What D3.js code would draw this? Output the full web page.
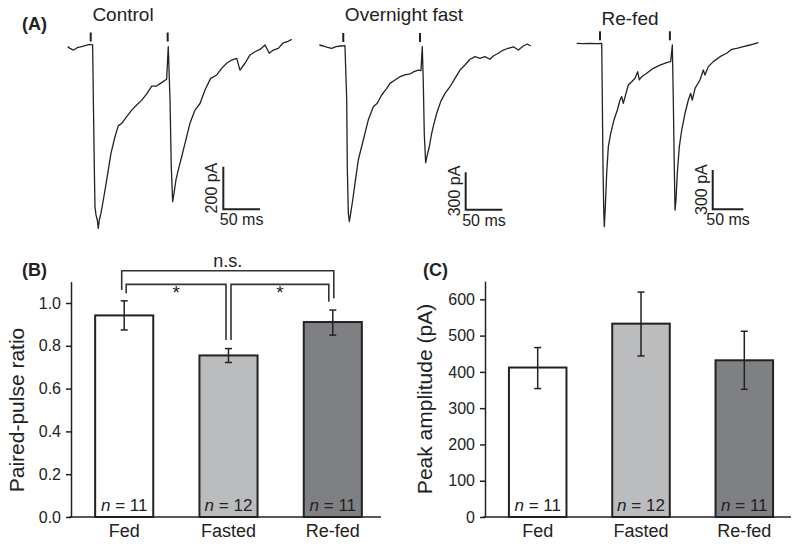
<!DOCTYPE html>
<html>
<head>
<meta charset="utf-8">
<script src="https://cdn.jsdelivr.net/npm/d3@7/dist/d3.min.js"></script>
<style>
  body { margin: 0; background: #fff; }
  svg { font-family: "Liberation Sans", Arial, sans-serif; }
  .axis path, .axis line { stroke: #222; stroke-width: 1.5px; }
  .axis text { font-size: 16px; fill: #222; }
  .axis.xax text { font-size: 18px; }
</style>
</head>
<body>
<div id="chart"></div>
<script>
// ---- panel A: example traces, [time ms, current pA] ----
const traceNames = ["Control", "Overnight fast", "Re-fed"];
const traceControl = [[0,-10],[3,-18],[8,-26],[13,-15],[19,-10],[25,-4],[30,1],[34,-2],[35,-260],[36.3,-574],[37.2,-761],[38.6,-800],[40.4,-824],[41.7,-863],[43.1,-824],[45.4,-792],[48.6,-730],[53.2,-636],[59,-511],[64.5,-433],[69,-382],[73.7,-370],[80.5,-339],[87.3,-308],[94.1,-284],[101,-261],[107.8,-232],[114.6,-195],[121.4,-195],[128.2,-179],[135,-163],[137.2,-10],[139.6,-261],[141.3,-574],[143.2,-738],[145,-699],[147.7,-636],[150.9,-589],[155.5,-527],[160,-464],[166.8,-370],[173.7,-308],[180.5,-277],[187.3,-214],[195,-159],[203.3,-143],[210,-112],[216.9,-88],[223.7,-73],[230.6,-65],[235,-120],[241.9,-88],[248.7,-49],[255.5,-34],[262.3,-23],[269.2,-2],[275,-41],[280.5,-26],[287.3,-18],[294.1,8],[299.6,13],[305.6,24]];
const traceFast = [[0,0],[5.5,-8],[11,-19],[17,-27],[22.8,-13],[29,-8],[35,-5],[37.4,-439],[38.2,-971],[39.6,-1343],[41,-1410],[42.8,-1343],[45.6,-1237],[48.7,-1104],[53.2,-918],[60,-758],[66.8,-599],[73.7,-492],[79.1,-465],[85.1,-399],[92,-346],[96.5,-306],[103.3,-279],[110.1,-253],[116.9,-239],[123.7,-231],[129.2,-213],[135.1,-200],[138.7,-205],[140.5,-13],[141.9,-306],[143.2,-705],[145.1,-939],[147.3,-878],[150.1,-812],[153.3,-705],[156.5,-625],[160.2,-545],[165.6,-452],[171.5,-386],[178.3,-333],[185.1,-266],[191.9,-200],[198.8,-160],[205.6,-114],[212.4,-93],[219.2,-106],[226,-93],[232.9,-114],[237.4,-88],[244.2,-66],[251,-40],[257.8,-26],[264.7,-14],[271.5,-40],[278.3,-8],[283.8,8],[288.4,-8]];
const traceRefed = [[0,0],[10.8,-3],[21.7,0],[32.6,-3],[40.8,0],[41.8,-433],[42.9,-942],[44,-1247],[45,-1400],[46.7,-1247],[48.9,-992],[51.6,-789],[55.5,-687],[60.8,-585],[66.3,-509],[70.6,-433],[73.4,-407],[76,-458],[80.4,-382],[84.2,-318],[89.7,-293],[95.1,-267],[99.5,-217],[102.1,-280],[106,-255],[114.2,-229],[125,-191],[135.9,-166],[146.8,-148],[153.3,-140],[156,-13],[157.6,-433],[159.2,-942],[160.4,-1273],[162,-1196],[164.1,-992],[167.4,-789],[171.3,-662],[176.7,-534],[182.1,-433],[186,-382],[188.6,-433],[193,-344],[201.1,-280],[206.5,-204],[209.3,-242],[214.7,-178],[222.8,-140],[233.8,-102],[244.7,-76],[252.9,-46],[261,-38],[271.8,-26],[282.7,-13],[296.3,5]];
const stimTimes = [[31.4, 136.4], [32.7, 137.4], [38, 152]];
const barPA = [200, 300, 300];
const barMs = 50;
const barAt = [[212.3, -574], [199.7, -1015], [221.9, -967]];

// ---- panels B and C ----
const groups = ["Fed", "Fasted", "Re-fed"];
const nCells = [11, 12, 11];
const ppr = [0.942, 0.755, 0.911];
const pprLo = [0.874, 0.722, 0.85];
const pprHi = [1.01, 0.787, 0.967];
const amp = [412, 533, 432];
const ampLo = [354, 444, 352];
const ampHi = [467, 620, 512];
const pprTicks = [0, 0.2, 0.4, 0.6, 0.8, 1.0];
const ampTicks = [0, 100, 200, 300, 400, 500, 600];
const fills = ["#ffffff", "#bbbcbe", "#7f8083"];
// comparisons: from group, to group, label, bracket level, leg ends
const comps = [
  {a: 0, b: 2, label: "n.s.", top: 1.151, endA: 1.061, endB: 1.022, dA: -2.5, dB: 1},
  {a: 0, b: 1, label: "*", top: 1.087, endA: 1.045, endB: 0.827, dA: 2, dB: -2.5},
  {a: 1, b: 2, label: "*", top: 1.087, endA: 0.827, endB: 1.006, dA: 2.5, dB: -4}
];

const W = 800, H = 546;
const svg = d3.select("#chart").append("svg").attr("width", W).attr("height", H);

// panel A
svg.append("text").attr("x", 22).attr("y", 30).attr("font-size", 18).attr("font-weight", "bold").attr("fill", "#222").text("(A)");

const layouts = [
  {x0: 67.7, pxMs: 0.733, y0: 44.5, pxPA: 0.213, tx: 123, ty: 21},
  {x0: 319.3, pxMs: 0.733, y0: 45, pxPA: 0.1253, tx: 404, ty: 21},
  {x0: 576.7, pxMs: 0.613, y0: 43.3, pxPA: 0.131, tx: 630, ty: 25}
];
const traces = [traceControl, traceFast, traceRefed];

traces.forEach((tr, i) => {
  const L = layouts[i];
  const x = d3.scaleLinear().domain([0, 100]).range([L.x0, L.x0 + 100 * L.pxMs]);
  const y = d3.scaleLinear().domain([0, -1000]).range([L.y0, L.y0 + 1000 * L.pxPA]);
  const g = svg.append("g");

  g.append("text").attr("x", L.tx).attr("y", L.ty).attr("text-anchor", "middle")
    .attr("font-size", 19).attr("fill", "#222").text(traceNames[i]);

  g.append("path").datum(tr)
    .attr("d", d3.line().x(d => x(d[0])).y(d => y(d[1])))
    .attr("fill", "none").attr("stroke", "#222").attr("stroke-width", 1.3)
    .attr("stroke-linejoin", "round");

  g.selectAll(".stim").data(stimTimes[i]).enter().append("line")
    .attr("x1", d => x(d)).attr("x2", d => x(d))
    .attr("y1", y(0) - 12).attr("y2", y(0) - 3)
    .attr("stroke", "#222").attr("stroke-width", 2);

  // scale bar
  const [bt, bi] = barAt[i];
  const bx = x(bt), byTop = y(bi), byBot = y(bi - barPA[i]), bxEnd = x(bt + barMs);
  g.append("path")
    .attr("d", `M${bx},${byTop}V${byBot}H${bxEnd}`)
    .attr("fill", "none").attr("stroke", "#222").attr("stroke-width", 2);
  g.append("text")
    .attr("transform", `translate(${bx - 6},${(byTop + byBot) / 2}) rotate(-90)`)
    .attr("text-anchor", "middle").attr("font-size", 16).attr("fill", "#222")
    .text(barPA[i] + " pA");
  g.append("text").attr("x", (bx + bxEnd) / 2).attr("y", byBot + 16)
    .attr("text-anchor", "middle").attr("font-size", 16).attr("fill", "#222")
    .text(barMs + " ms");
});

// bar panels
function barPanel(opts) {
  const g = svg.append("g");
  const x = d3.scaleBand().domain(groups).range(opts.xr).paddingInner(0.443).paddingOuter(0.222);
  const y = d3.scaleLinear().domain(opts.yd).range([517, opts.ytop]);

  g.append("text").attr("x", opts.lx).attr("y", 276).attr("font-size", 18)
    .attr("font-weight", "bold").attr("fill", "#222").text(opts.letter);

  g.selectAll("rect").data(groups).enter().append("rect")
    .attr("x", d => x(d)).attr("width", x.bandwidth())
    .attr("y", (d, i) => y(opts.vals[i]))
    .attr("height", (d, i) => y(0) - y(opts.vals[i]))
    .attr("fill", (d, i) => fills[i]).attr("stroke", "#222").attr("stroke-width", 2);

  const eb = g.selectAll(".eb").data(groups).enter().append("g")
    .attr("stroke", "#222").attr("stroke-width", 1.5);
  eb.append("line")
    .attr("x1", d => x(d) + x.bandwidth() / 2).attr("x2", d => x(d) + x.bandwidth() / 2)
    .attr("y1", (d, i) => y(opts.lo[i])).attr("y2", (d, i) => y(opts.hi[i]));
  [opts.lo, opts.hi].forEach(arr => {
    eb.append("line")
      .attr("x1", d => x(d) + x.bandwidth() / 2 - 3.5).attr("x2", d => x(d) + x.bandwidth() / 2 + 3.5)
      .attr("y1", (d, i) => y(arr[i])).attr("y2", (d, i) => y(arr[i]));
  });

  g.selectAll(".n").data(groups).enter().append("text")
    .attr("x", d => x(d) + x.bandwidth() / 2).attr("y", 511)
    .attr("text-anchor", "middle").attr("font-size", 17).attr("fill", "#222")
    .html((d, i) => `<tspan font-style="italic">n</tspan> = ${nCells[i]}`);

  g.append("g").attr("class", "axis").attr("transform", `translate(${opts.ax},0)`)
    .call(d3.axisLeft(y).tickValues(opts.ticks).tickFormat(opts.fmt).tickSize(5).tickSizeOuter(0).tickPadding(5));
  const xa = g.append("g").attr("class", "axis xax").attr("transform", "translate(0,517)")
    .call(d3.axisBottom(x).tickSize(0).tickPadding(7));
  xa.select(".domain").attr("d", `M${opts.ax - 2},0H${opts.xend}`);

  g.append("text")
    .attr("transform", `translate(${opts.ylx},${opts.yly}) rotate(-90)`)
    .attr("text-anchor", "middle").attr("font-size", 21).attr("fill", "#222")
    .text(opts.ylabel);
  return {g, x, y};
}

const B = barPanel({
  letter: "(B)", lx: 22, xr: [72, 385], ax: 71, xend: 381, yd: [0, 1.1], ytop: 281.6,
  vals: ppr, lo: pprLo, hi: pprHi, ticks: pprTicks, fmt: d3.format(".1f"),
  ylabel: "Paired-pulse ratio", ylx: 24, yly: 410
});

const C = barPanel({
  letter: "(C)", lx: 423, xr: [486, 796], ax: 485, xend: 791, yd: [0, 650], ytop: 281.2,
  vals: amp, lo: ampLo, hi: ampHi, ticks: ampTicks, fmt: d3.format("d"),
  ylabel: "Peak amplitude (pA)", ylx: 432, yly: 399
});

// significance brackets on B
const cx = i => B.x(groups[i]) + B.x.bandwidth() / 2;
comps.forEach(c => {
  const xa = cx(c.a) + c.dA, xb = cx(c.b) + c.dB;
  B.g.append("path")
    .attr("d", `M${xa},${B.y(c.endA)}V${B.y(c.top)}H${xb}V${B.y(c.endB)}`)
    .attr("fill", "none").attr("stroke", "#333").attr("stroke-width", 1.6);
  B.g.append("text").attr("x", (xa + xb) / 2)
    .attr("y", c.label === "*" ? B.y(c.top) + 15 : B.y(c.top) - 4)
    .attr("text-anchor", "middle").attr("font-size", c.label === "*" ? 19 : 18)
    .attr("fill", "#222").text(c.label);
});
</script>
</body>
</html>
